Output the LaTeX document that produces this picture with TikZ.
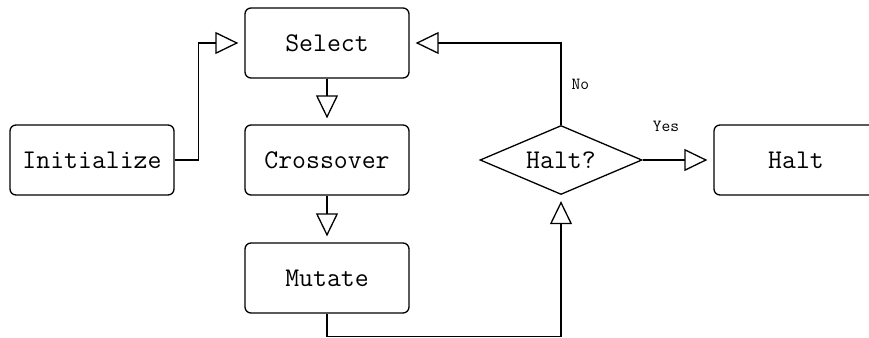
\documentclass[tikz,border=0pt]{standalone}
\usetikzlibrary{shapes.geometric,arrows.meta}

\tikzset{
  stepbox/.style={draw, line width=1.3pt, rounded corners=6pt,
    minimum width=164pt, minimum height=70pt, inner sep=0pt,
    font=\ttfamily\fontsize{27}{27}\selectfont},
  testbox/.style={draw, line width=1.3pt, diamond, aspect=2.35,
    minimum width=162pt, minimum height=69pt, inner sep=0pt,
    font=\ttfamily\fontsize{27}{27}\selectfont},
  flow/.style={line width=1.3pt,
    -{Triangle[open, length=23pt, width=22pt, line width=1.3pt]},
    shorten >=6pt},
  answer/.style={font=\ttfamily\fontsize{17}{17}\selectfont, inner sep=0pt},
}

\begin{document}
\begin{tikzpicture}[x=1pt,y=-1pt]
\clip (0,0) rectangle (869,337);
% the steps
\node[stepbox] (init)     at (92,160)  {Initialize};
\node[stepbox] (select)   at (327,43)  {Select};
\node[stepbox] (cross)    at (327,160) {Crossover};
\node[stepbox] (mutate)   at (327,278) {Mutate};
\node[testbox] (halttest) at (561,160) {Halt?};
\node[stepbox] (halt)     at (796,160) {Halt};
% the flow
\draw[flow] (init.east) -- ++(24,0) |- (select.west);
\draw[flow] (select) -- (cross);
\draw[flow] (cross) -- (mutate);
\draw[flow] (mutate.south) -- ++(0,23) -| (halttest.south);
\draw[flow] (halttest.north) |- (select.east)
  node[answer, pos=0.25, anchor=west, xshift=10pt] {No};
\draw[flow] (halttest.east) -- (halt.west)
  node[answer, pos=0.33, yshift=34pt] {Yes};
\end{tikzpicture}
\end{document}
